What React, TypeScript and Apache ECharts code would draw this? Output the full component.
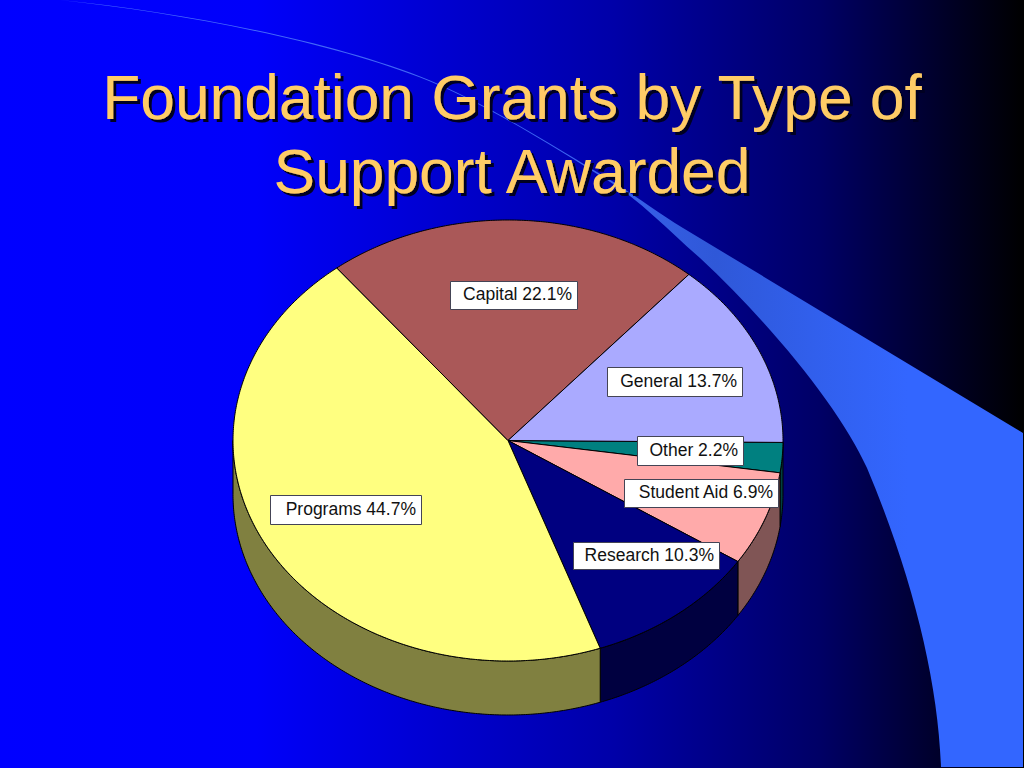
import React, { useEffect, useRef } from "react";
import * as echarts from "echarts";

const titleText = "Foundation Grants by Type of\nSupport Awarded";
const sliceNames = ["Other", "Student Aid", "Research", "Programs", "Capital", "General"];
const sliceValues = [2.2, 6.9, 10.3, 44.7, 22.1, 13.7];
const topColors = ["#008080", "#FFAAAA", "#000080", "#FFFF80", "#AA5858", "#AAAAFF"];
const wallColors = ["#004040", "#805555", "#000040", "#808040", "#552C2C", "#555580"];
// label boxes: left, top, right, bottom
const labelBoxes = [
  [637, 436, 743, 465],
  [624, 479, 778, 507],
  [573, 542, 719, 569],
  [270, 495, 421, 524],
  [450, 281, 577, 309],
  [607, 367, 742, 396],
];

const CX = 508, CY = 440.5, RX = 275, RY = 220.5, DEPTH = 54, START = 0.5;
const FONT = '"Liberation Sans", Arial, sans-serif';
const SWOOSH =
  "M60 0 C180 12 330 40 429 80 C490 105 560 150 612 181 C640 199 660 214 683 228 L1023 433 L1023 767 L941 767 " +
  "C938 680 912 575 867 468 C842 412 775 328 700 258 C670 232 640 200 607 180 " +
  "C560 151 490 106 429 81 C330 41 180 13 60 0 Z";

const total = sliceValues.reduce((a, b) => a + b, 0);
function sliceRange(i: number): [number, number] {
  let s = 0;
  for (let k = 0; k < i; k++) s += sliceValues[k];
  return [START + (s / total) * 360, START + ((s + sliceValues[i]) / total) * 360];
}
function pt(deg: number, dy = 0): number[] {
  const r = (deg * Math.PI) / 180;
  return [CX + RX * Math.cos(r), CY + RY * Math.sin(r) + dy];
}
function arc(a: number, b: number, dy = 0): number[][] {
  const out: number[][] = [];
  const n = Math.max(2, Math.ceil((b - a) * 2));
  for (let k = 0; k <= n; k++) out.push(pt(a + ((b - a) * k) / n, dy));
  return out;
}

export default function App() {
  const ref = useRef<HTMLDivElement>(null);
  useEffect(() => {
    document.body.style.margin = "0";
    const Sw = (echarts.graphic as any).extendPath(SWOOSH, {});
    echarts.graphic.registerShape("swoosh", Sw);
    const chart = echarts.init(ref.current!, null, { renderer: "svg" });
    const data = sliceNames.map((name, i) => ({ name, value: sliceValues[i] }));
    chart.setOption({
      animation: false,
      backgroundColor: new echarts.graphic.LinearGradient(0, 0, 1, 0, [
        { offset: 0, color: "#0000FF" },
        { offset: 0.25, color: "#0000FA" },
        { offset: 0.6, color: "#0000A8" },
        { offset: 0.8, color: "#000066" },
        { offset: 1, color: "#000000" },
      ]),
      title: {
        text: titleText,
        left: 512,
        top: 60,
        padding: 0,
        textAlign: "center",
        textStyle: {
          color: "#FFCC66",
          fontFamily: FONT,
          fontWeight: "normal",
          fontSize: 62.3,
          lineHeight: 74,
          textShadowColor: "#000020",
          textShadowOffsetX: 3,
          textShadowOffsetY: 3,
          textShadowBlur: 1,
        },
      },
      graphic: [
        {
          type: "swoosh",
          x: 0,
          y: 0,
          z: 1,
          silent: true,
          style: {
            fill: {
              type: "linear", x: 0, y: 0, x2: 1, y2: 0,
              colorStops: [
                { offset: 0, color: "#4A6CFF" },
                { offset: 0.55, color: "#3A62F0" },
                { offset: 0.68, color: "#2F58D8" },
                { offset: 0.88, color: "#3366FF" },
                { offset: 1, color: "#3366FF" },
              ],
            },
          },
        },
      ],
      series: [
        {
          type: "custom",
          coordinateSystem: "none",
          z: 3,
          silent: true,
          clip: false,
          data,
          renderItem: (p: any) => {
            const [a, b] = sliceRange(p.dataIndex);
            const e = Math.min(b, 180);
            if (a >= 180) return { type: "group", children: [] };
            const pts = [...arc(a, e), ...arc(a, e, DEPTH).reverse()];
            return {
              type: "polygon",
              shape: { points: pts },
              style: { fill: wallColors[p.dataIndex], stroke: "#000", lineWidth: 1 },
            };
          },
        },
        {
          type: "custom",
          coordinateSystem: "none",
          z: 4,
          silent: true,
          clip: false,
          data,
          renderItem: (p: any) => {
            const [a, b] = sliceRange(p.dataIndex);
            return {
              type: "polygon",
              shape: { points: [[CX, CY], ...arc(a, b)] },
              style: { fill: topColors[p.dataIndex], stroke: "#000", lineWidth: 1 },
            };
          },
        },
        {
          type: "custom",
          coordinateSystem: "none",
          z: 5,
          silent: true,
          clip: false,
          data,
          renderItem: (p: any, api: any) => {
            const [l, t, r, bt] = labelBoxes[p.dataIndex];
            return {
              type: "group",
              children: [
                {
                  type: "rect",
                  shape: { x: l + 0.5, y: t + 0.5, width: r - l, height: bt - t },
                  style: { fill: "#FFFFFF", stroke: "#444455", lineWidth: 1 },
                },
                {
                  type: "text",
                  x: r - 5,
                  y: (t + bt) / 2 - 1,
                  style: {
                    text: `${sliceNames[p.dataIndex]} ${api.value(0)}%`,
                    fill: "#111111",
                    font: `17.5px ${FONT}`,
                    textAlign: "right",
                    textVerticalAlign: "middle",
                  },
                },
              ],
            };
          },
        },
      ],
    });
    return () => chart.dispose();
  }, []);
  return <div ref={ref} style={{ width: 1024, height: 768 }} />;
}
